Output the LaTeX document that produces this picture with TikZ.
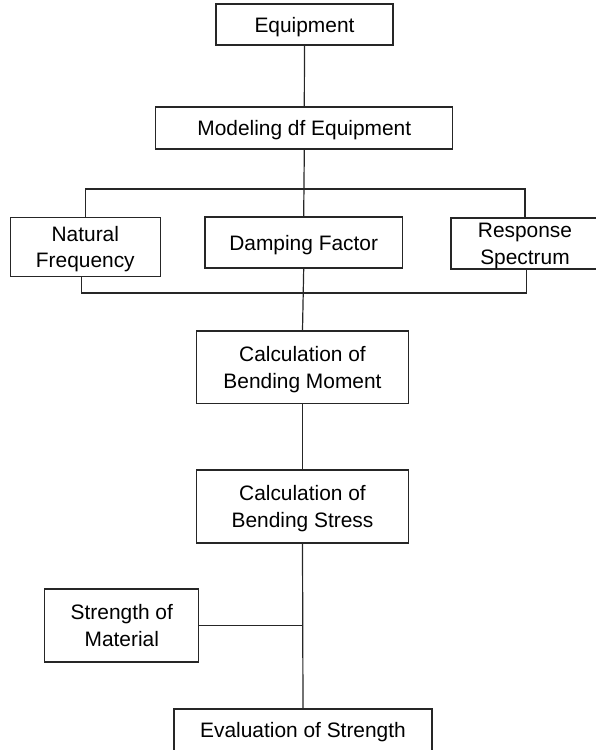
\documentclass[tikz,border=0pt]{standalone}
\usepackage{fontspec}
\setmainfont{Liberation Sans}
\begin{document}
\begin{tikzpicture}[x=1pt,y=-1pt,
  box/.style={draw=black!85, line width=1.2pt, inner sep=0pt, align=center,
    text=black, font=\fontsize{20.9}{26.8}\selectfont,
    text height=15pt, text depth=0pt},
  twoline/.style={box, text height=41.8pt},
  link/.style={draw=black!85, line width=1.2pt}]
  \clip (0,0) rectangle (596,750);

  % boxes
  \node[box, minimum width=177pt, minimum height=41pt]    (eq)   at (304.5,24.5)  {Equipment};
  \node[box, minimum width=297pt, minimum height=42pt]    (mod)  at (304.3,128)   {Modeling df Equipment};
  \node[twoline, minimum width=150pt, minimum height=59.4pt] (nat)  at (85.3,247) {Natural\\Frequency};
  \node[box, minimum width=197.6pt, minimum height=51pt]  (damp) at (303.7,242.5) {Damping Factor};
  \node[twoline, minimum width=148pt, minimum height=51pt] (resp) at (525,243.5)  {Response\\Spectrum};
  \node[twoline, minimum width=212pt, minimum height=72.3pt] (cm) at (302.5,367.2) {Calculation of\\Bending Moment};
  \node[twoline, minimum width=212pt, minimum height=73pt] (cs)   at (302.5,506.5) {Calculation of\\Bending Stress};
  \node[twoline, minimum width=154pt, minimum height=73pt] (str)  at (121.8,625.5) {Strength of\\Material};
  \node[box, minimum width=258pt, minimum height=42pt]    (ev)   at (303,730)     {Evaluation of Strength};

  % bus bars around the three parameter boxes
  \coordinate (topbar) at (304,189);
  \coordinate (botbar) at (304,293);

  % connectors
  \draw[link] (eq.south) -- (mod.north);
  \draw[link] (mod.south) -- (damp.north);
  \draw[link] (nat.north) |- (topbar) -| (resp.north);
  \draw[link] ([xshift=-4pt]nat.south) |- (botbar) -| ([xshift=1.5pt]resp.south);
  \draw[link] (damp.south) -- (cm.north);
  \draw[link] (cm.south) -- (cs.north);
  \draw[link] (cs.south) -- (ev.north);
  \draw[link] (str.east) -- (str.east -| cs.south);
\end{tikzpicture}
\end{document}
